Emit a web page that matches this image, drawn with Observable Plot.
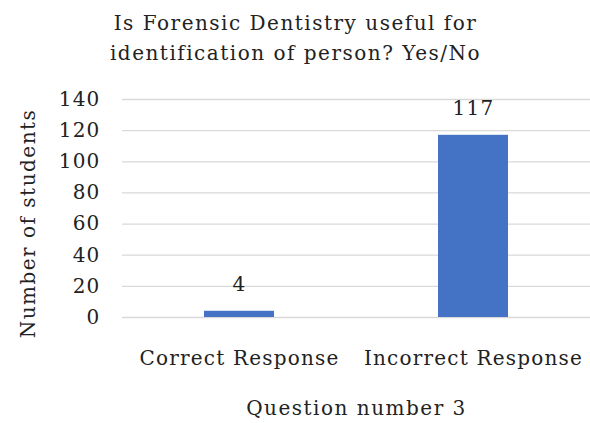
<!DOCTYPE html>
<html><head><meta charset="utf-8">
<script src="https://cdn.jsdelivr.net/npm/d3@7"></script>
<script src="https://cdn.jsdelivr.net/npm/@observablehq/plot@0.6"></script>
<style>body{margin:0;background:#fff;} svg, svg text{font-family:"DejaVu Serif",serif;} svg text{letter-spacing:1.2px;} .wide text{letter-spacing:1.5px;}</style>
</head><body><div id="chart"></div>
<script>
const categories = ["Correct Response", "Incorrect Response"];
const values = [4, 117];
const yTicks = [0, 20, 40, 60, 80, 100, 120, 140];
const titleText = "Is Forensic Dentistry useful for\nidentification of person? Yes/No";
const xLabel = "Question number 3";
const yLabel = "Number of students";

const data = categories.map((c, i) => ({category: c, value: values[i]}));
const font = "DejaVu Serif";

const chart = Plot.plot({
  width: 590, height: 423,
  marginLeft: 122, marginRight: 0, marginTop: 99, marginBottom: 106,
  style: {fontFamily: font, fontSize: "20px", color: "#222", background: "#fff"},
  x: {domain: categories, paddingInner: 0.7, paddingOuter: 0.35, label: null},
  y: {domain: [0, 140], ticks: yTicks, label: null},
  marks: [
    Plot.gridY(yTicks, {stroke: "#d9d9d9", strokeOpacity: 1, strokeWidth: 1.3}),
    Plot.barY(data, {x: "category", y: "value", fill: "#4472c4"}),
    Plot.text(data, {x: "category", y: "value", text: d => String(d.value), dy: -27, fontSize: 20, fontFamily: font, fill: "#222"}),
    Plot.axisY({ticks: yTicks, tickSize: 0, tickPadding: 22, fontSize: 20, fontFamily: font, label: null}),
    Plot.axisX({tickSize: 0, tickPadding: 33, fontSize: 20, fontFamily: font, label: null}),
    Plot.text([xLabel], {frameAnchor: "bottom", dy: 97, fontSize: 20, fontFamily: font, fill: "#222", className: "wide"}),
    Plot.text([yLabel], {frameAnchor: "left", textAnchor: "middle", dx: -94, dy: 15, rotate: -90, fontSize: 20, fontFamily: font, fill: "#222", className: "wide"}),
    Plot.text([titleText], {frameAnchor: "top", dx: -61, dy: -91, lineAnchor: "top", lineHeight: 1.5, fontSize: 20, fontFamily: font, fill: "#222", className: "wide"})
  ]
});
document.getElementById("chart").appendChild(chart);
</script></body></html>
